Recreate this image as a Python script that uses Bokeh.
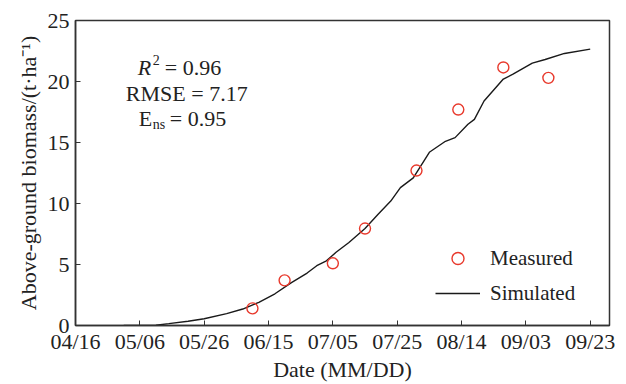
import pandas as pd
from bokeh.plotting import figure
from bokeh.models import (FixedTicker, DatetimeTickFormatter, Label, Legend,
                          LegendItem, Range1d)
from bokeh.embed import file_html
from bokeh.resources import INLINE

YEAR = "2021"
# Simulated above-ground biomass (t/ha)
sim_dates = ["05/01", "05/11", "05/15", "05/21", "05/26", "06/02", "06/07",
             "06/12", "06/17", "06/22", "06/27", "06/30", "07/03", "07/06",
             "07/10", "07/15", "07/19", "07/23", "07/26", "07/30", "08/04",
             "08/09", "08/12", "08/16", "08/18", "08/21", "08/24", "08/27",
             "08/30", "09/05", "09/09", "09/15", "09/23"]
sim_values = [0.0, 0.02, 0.15, 0.35, 0.55, 0.97, 1.35, 1.9, 2.6, 3.5, 4.3,
              4.9, 5.3, 6.0, 6.8, 7.95, 9.1, 10.2, 11.3, 12.1, 14.2, 15.1,
              15.4, 16.5, 16.9, 18.4, 19.3, 20.2, 20.6, 21.5, 21.8, 22.3, 22.65]
# Measured
meas_dates = ["06/10", "06/20", "07/05", "07/15", "07/31", "08/13", "08/27", "09/10"]
meas_values = [1.4, 3.7, 5.1, 7.95, 12.7, 17.7, 21.15, 20.3]

x_tick_labels = ["04/16", "05/06", "05/26", "06/15", "07/05", "07/25",
                 "08/14", "09/03", "09/23"]
y_ticks = [0, 5, 10, 15, 20, 25]
x_start, x_end = "04/16", "09/29"


def to_dt(s):
    return pd.to_datetime(YEAR + "/" + s, format="%Y/%m/%d")


def to_ms(s):
    return to_dt(s).value / 1e6


FONT = "Liberation Serif"
TXT = "#222222"
p = figure(width=626, height=384, x_axis_type="datetime",
           output_backend="svg", toolbar_location=None,
           x_range=Range1d(to_dt(x_start), to_dt(x_end)),
           y_range=Range1d(0, 25),
           min_border_left=75, min_border_right=17, min_border_top=20,
           min_border_bottom=59)
p.grid.visible = False
p.outline_line_color = "#333333"
p.outline_line_width = 1.5
p.background_fill_color = "white"
p.border_fill_color = "white"

p.xaxis.ticker = FixedTicker(ticks=[to_ms(s) for s in x_tick_labels])
fmt = "%m/%d"
p.xaxis.formatter = DatetimeTickFormatter(
    milliseconds=fmt, seconds=fmt, minsec=fmt, minutes=fmt, hourmin=fmt,
    hours=fmt, days=fmt, months=fmt, years=fmt)
p.yaxis.ticker = FixedTicker(ticks=y_ticks)
p.xaxis.axis_label = "Date (MM/DD)"
p.yaxis.axis_label = "Above-ground biomass/(t\u00b7ha\u207b\u00b9)"

for ax in (p.xaxis[0], p.yaxis[0]):
    ax.axis_label_text_font = FONT
    ax.axis_label_text_font_style = "normal"
    ax.axis_label_text_font_size = "22px"
    ax.major_label_text_font = FONT
    ax.major_label_text_font_size = "22px"
    ax.major_label_text_color = TXT
    ax.axis_label_text_color = TXT
    ax.axis_line_color = "#333333"
    ax.axis_line_width = 1.5
    ax.major_tick_line_color = "#333333"
    ax.major_tick_in = 5
    ax.major_tick_out = 0
    ax.minor_tick_line_color = None
p.xaxis.major_label_standoff = 3
p.xaxis.axis_label_standoff = 0
p.yaxis.major_label_standoff = 6
p.yaxis.axis_label_standoff = 4

line = p.line([to_dt(s) for s in sim_dates], sim_values,
              line_color="#1a1a1a", line_width=1.4)
pts = p.scatter([to_dt(s) for s in meas_dates], meas_values, marker="circle",
                size=11, fill_color=None, line_color="#e8392c", line_width=1.4)

legend = Legend(items=[LegendItem(label="Measured", renderers=[pts]),
                       LegendItem(label="Simulated", renderers=[line])],
                location=(360, 17), padding=0, spacing=5,
                glyph_width=45, glyph_height=30, label_standoff=10,
                label_text_font=FONT, label_text_font_size="21px",
                label_text_color=TXT,
                border_line_color=None, background_fill_alpha=0)
p.add_layout(legend)

anchor = to_ms("05/06")
common = dict(text_font=FONT, text_color=TXT, text_baseline="alphabetic")
labels = [
    Label(x=anchor, y=21.15, x_offset=-2, text="R", text_font_size="22px",
          text_font_style="italic", **common),
    Label(x=anchor, y=21.75, x_offset=13, text="2", text_font_size="14px", **common),
    Label(x=anchor, y=21.15, x_offset=25, text="= 0.96", text_font_size="22px", **common),
    Label(x=anchor, y=19.0, x_offset=-14, text="RMSE = 7.17", text_font_size="22px", **common),
    Label(x=anchor, y=17.0, x_offset=-1, text="E", text_font_size="22px", **common),
    Label(x=anchor, y=16.5, x_offset=13, text="ns", text_font_size="14px", **common),
    Label(x=anchor, y=17.0, x_offset=30, text="= 0.95", text_font_size="22px", **common),
]
for lb in labels:
    p.add_layout(lb)

open("out.html", "w").write(file_html(p, INLINE))
